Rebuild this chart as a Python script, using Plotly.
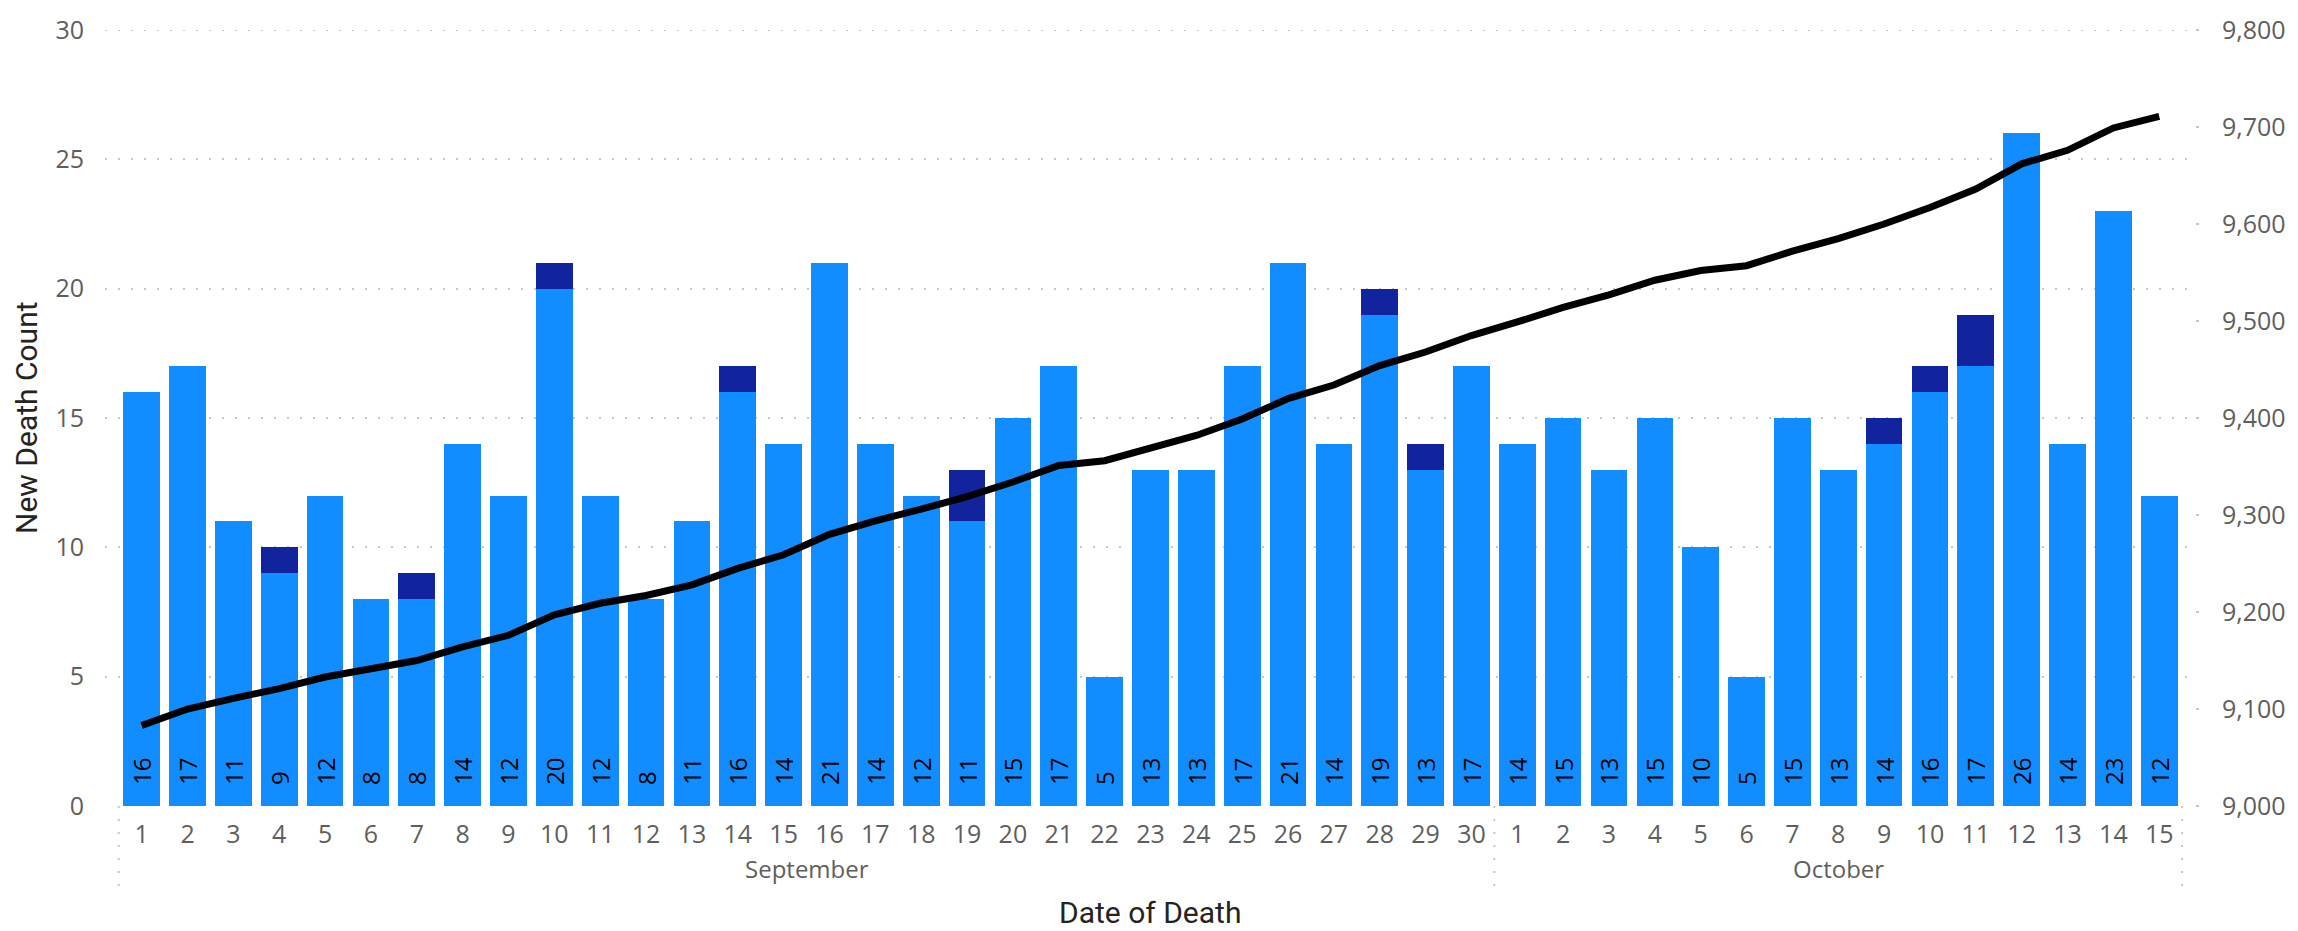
import plotly.graph_objects as go

# ---- data ----
months = ["September"] * 30 + ["October"] * 15
days = list(range(1, 31)) + list(range(1, 16))
month_abbr = {"September": "Sep", "October": "Oct"}
categories = [f"{month_abbr[m]} {d}" for m, d in zip(months, days)]

light_counts = [16, 17, 11, 9, 12, 8, 8, 14, 12, 20, 12, 8, 11, 16, 14, 21, 14, 12, 11, 15,
                17, 5, 13, 13, 17, 21, 14, 19, 13, 17,
                14, 15, 13, 15, 10, 5, 15, 13, 14, 16, 17, 26, 14, 23, 12]
dark_counts = [0, 0, 0, 1, 0, 0, 1, 0, 0, 1, 0, 0, 0, 1, 0, 0, 0, 0, 2, 0,
               0, 0, 0, 0, 0, 0, 0, 1, 1, 0,
               0, 0, 0, 0, 0, 0, 0, 0, 1, 1, 2, 0, 0, 0, 0]
cumulative = [9083, 9100, 9111, 9121, 9133, 9141, 9150, 9164, 9176, 9197, 9209, 9217, 9228,
              9245, 9259, 9280, 9294, 9306, 9319, 9334, 9351, 9356, 9369, 9382, 9399, 9420,
              9434, 9454, 9468, 9485,
              9499, 9514, 9527, 9542, 9552, 9557, 9572, 9585, 9600, 9617, 9636, 9662, 9676,
              9699, 9711]

LIGHT = "#118DFF"
DARK = "#12239E"
GRID = "#C8C6C4"
TICK = "#605E5C"
TITLE = "#252423"
FONT = "Open Sans"

fig = go.Figure()
fig.add_trace(go.Bar(
    x=categories, y=light_counts, marker_color=LIGHT, marker_line_width=0,
    text=[str(v) for v in light_counts], texttemplate="\u2002\u2005%{text}",
    textposition="inside", insidetextanchor="start", textangle=-90,
    insidetextfont=dict(family=FONT, size=24, color="black"),
    cliponaxis=False, name="New"))
fig.add_trace(go.Bar(
    x=categories, y=[v if v else None for v in dark_counts], marker_color=DARK,
    marker_line_width=0, name="Other"))
fig.add_trace(go.Scatter(
    x=categories, y=cumulative, yaxis="y2", mode="lines",
    line=dict(color="black", width=7), name="Cumulative"))

# month dividers and labels
shapes = []
annotations = []
start = 0
groups = []
for m in dict.fromkeys(months):
    n = months.count(m)
    groups.append((m, start, start + n - 1))
    start += n
bounds = [-0.5] + [g[2] + 0.5 for g in groups]
for b in bounds:
    shapes.append(dict(type="line", xref="x", yref="paper", x0=b, x1=b, y0=0, y1=-0.107,
                       line=dict(color=GRID, width=2, dash="2px,11px")))
# top gridline (value 30) drawn explicitly at the axis maximum
shapes.append(dict(type="line", xref="paper", yref="y", x0=0, x1=1, y0=30, y1=30,
                   layer="below", line=dict(color=GRID, width=2, dash="2px,11px")))
for m, s, e in groups:
    annotations.append(dict(text=m, xref="x", yref="paper", x=(s + e) / 2, y=0,
                            yanchor="middle", yshift=-62, showarrow=False,
                            font=dict(family=FONT, size=24, color=TICK)))
annotations.append(dict(text="Date of Death", xref="paper", yref="paper", x=0.5, y=0,
                        yanchor="middle", yshift=-106, showarrow=False,
                        font=dict(family="Roboto", size=30, color=TITLE)))
annotations.append(dict(text="New Death Count", xref="paper", yref="paper", x=0, y=0.5,
                        xanchor="center", xshift=-79, textangle=-90, showarrow=False,
                        font=dict(family="Roboto", size=30, color=TITLE)))

fig.update_layout(
    width=2298, height=931,
    margin=dict(l=105, r=94, t=18, b=125),
    paper_bgcolor="white", plot_bgcolor="white",
    barmode="stack", bargap=0.2, showlegend=False,
    uniformtext=dict(minsize=24, mode="show"),
    font=dict(family=FONT, color=TICK),
    shapes=shapes, annotations=annotations,
    xaxis=dict(type="category", tickmode="array", tickvals=categories,
               ticktext=[str(d) for d in days], range=[-0.8, 44.78],
               showgrid=False, showline=False, zeroline=False, ticks="",
               tickfont=dict(family=FONT, size=25, color=TICK), ticklabelstandoff=11),
    yaxis=dict(range=[0, 30], dtick=5, showgrid=True, gridcolor=GRID, gridwidth=2,
               griddash="2px,11px", zeroline=False, showline=False, ticks="",
               ticklabeloverflow="allow",
               tickfont=dict(family=FONT, size=25, color=TICK), ticklabelstandoff=20),
    yaxis2=dict(range=[9000, 9800], dtick=100, tickformat=",", overlaying="y",
                side="right", showgrid=False, zeroline=False, showline=False,
                ticks="outside", ticklen=3, tickwidth=2, tickcolor=GRID,
                ticklabeloverflow="allow",
                tickfont=dict(family=FONT, size=25, color=TICK), ticklabelstandoff=18),
)

fig.write_html("out.html", config={"displayModeBar": False},
               post_script="document.body.style.margin='0';")
